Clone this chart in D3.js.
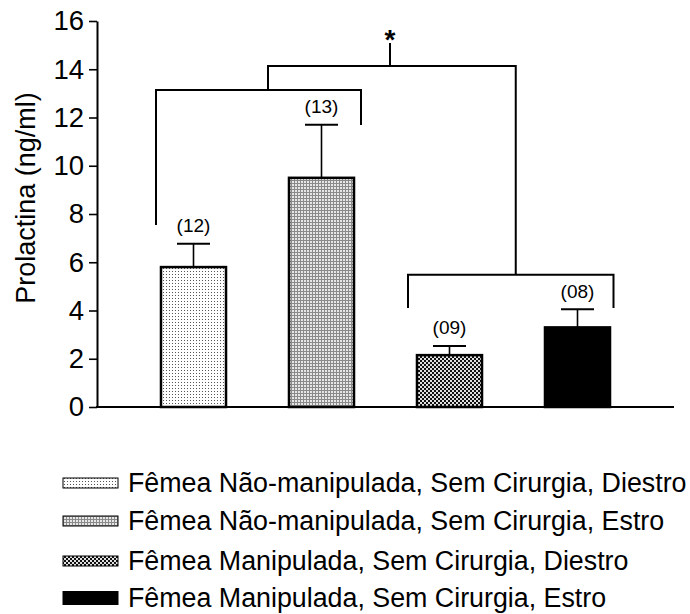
<!DOCTYPE html>
<html>
<head>
<meta charset="utf-8">
<script src="https://cdn.jsdelivr.net/npm/d3@7"></script>
<style>
  html, body { margin: 0; padding: 0; background: #fff; }
  svg { display: block; font-family: "Liberation Sans", Arial, sans-serif; }
</style>
</head>
<body>
<svg id="chart" width="690" height="614"></svg>
<script>
// Groups, means and standard errors of serum prolactin
const groups = [
  "Fêmea Não-manipulada, Sem Cirurgia, Diestro",
  "Fêmea Não-manipulada, Sem Cirurgia, Estro",
  "Fêmea Manipulada, Sem Cirurgia, Diestro",
  "Fêmea Manipulada, Sem Cirurgia, Estro"
];
const means = [5.8, 9.5, 2.15, 3.3];
const sems = [0.97, 2.2, 0.38, 0.75];
const counts = ["(12)", "(13)", "(09)", "(08)"];
const yTicks = [0, 2, 4, 6, 8, 10, 12, 14, 16];
const fills = ["url(#pDots)", "url(#pGrid)", "url(#pCheck)", "#000"];

const svg = d3.select("#chart");

// patterns for the bar fills
const defs = svg.append("defs");
const pDots = defs.append("pattern").attr("id", "pDots")
  .attr("patternUnits", "userSpaceOnUse").attr("width", 3).attr("height", 3);
pDots.append("rect").attr("width", 3).attr("height", 3).attr("fill", "#fff");
pDots.append("rect").attr("x", 1).attr("y", 1).attr("width", 1).attr("height", 1).attr("fill", "#555");

const pGrid = defs.append("pattern").attr("id", "pGrid")
  .attr("patternUnits", "userSpaceOnUse").attr("width", 3).attr("height", 3);
pGrid.append("rect").attr("width", 3).attr("height", 3).attr("fill", "#e6e6e6");
pGrid.append("rect").attr("width", 3).attr("height", 1).attr("fill", "#8a8a8a");
pGrid.append("rect").attr("width", 1).attr("height", 3).attr("fill", "#8a8a8a");

const pCheck = defs.append("pattern").attr("id", "pCheck")
  .attr("patternUnits", "userSpaceOnUse").attr("width", 4).attr("height", 4);
pCheck.append("rect").attr("width", 4).attr("height", 4).attr("fill", "#e0e0e0");
pCheck.append("rect").attr("x", 0).attr("y", 0).attr("width", 2).attr("height", 2).attr("fill", "#111");
pCheck.append("rect").attr("x", 2).attr("y", 2).attr("width", 2).attr("height", 2).attr("fill", "#111");

// scales
const y = d3.scaleLinear().domain([0, 16]).range([407, 21]);
const x = d3.scaleBand().domain(groups).range([129.5, 641.5])
  .paddingInner(0.492).paddingOuter(0.246);
const cx = i => x(groups[i]) + x.bandwidth() / 2;

// y axis
const yAxis = svg.append("g").attr("transform", "translate(97,0)")
  .call(d3.axisLeft(y).tickValues(yTicks).tickSize(8).tickPadding(5).tickSizeOuter(0));
yAxis.select(".domain").attr("stroke", "#000").attr("stroke-width", 2);
yAxis.selectAll(".tick line").attr("stroke", "#000").attr("stroke-width", 1.6);
yAxis.selectAll(".tick text").attr("font-size", 27.5).attr("fill", "#000")
  .attr("font-family", "Liberation Sans, Arial, sans-serif");

// x baseline
svg.append("line").attr("x1", 96).attr("x2", 674)
  .attr("y1", y(0)).attr("y2", y(0)).attr("stroke", "#000").attr("stroke-width", 2);

// axis title
svg.append("text")
  .attr("transform", "translate(35,198) rotate(-90)")
  .attr("text-anchor", "middle").attr("font-size", 27).attr("fill", "#000")
  .text("Prolactina (ng/ml)");

// error bars
const err = svg.append("g").attr("stroke", "#000").attr("stroke-width", 1.6);
groups.forEach((g, i) => {
  const c = cx(i);
  err.append("line").attr("x1", c).attr("x2", c)
    .attr("y1", y(means[i])).attr("y2", y(means[i] + sems[i]));
  err.append("line").attr("x1", c - 16.5).attr("x2", c + 16.5)
    .attr("y1", y(means[i] + sems[i])).attr("y2", y(means[i] + sems[i]))
    .attr("stroke-width", 2);
});

// bars
svg.append("g").selectAll("rect").data(groups).join("rect")
  .attr("x", d => x(d)).attr("width", x.bandwidth())
  .attr("y", (d, i) => y(means[i])).attr("height", (d, i) => y(0) - y(means[i]))
  .attr("fill", (d, i) => fills[i])
  .attr("stroke", "#000").attr("stroke-width", 2.5);

// sample sizes
svg.append("g").selectAll("text").data(counts).join("text")
  .attr("x", (d, i) => cx(i)).attr("y", (d, i) => y(means[i] + sems[i]) - 11.5)
  .attr("text-anchor", "middle").attr("font-size", 19).attr("fill", "#000")
  .text(d => d);

// significance brackets
const br = svg.append("g").attr("fill", "none").attr("stroke", "#000").attr("stroke-width", 2);
const bl = cx(0) - 37.5, brr = cx(1) + 39.5;   // left pair
const ll = cx(2) - 41.5, lr = cx(3) + 36;      // right pair
const yLeft = y(13.14), yLow = y(5.48), yTop = y(14.13);
br.append("path").attr("d", `M${bl},${y(7.54)}V${yLeft}H${brr}V${y(11.69)}`);
br.append("path").attr("d", `M${ll},${y(4.1)}V${yLow}H${lr}V${y(4.1)}`);
const tl = bl + 112, tr = (ll + lr) / 2 + 5;
br.append("path").attr("d", `M${tl},${yLeft}V${yTop}H${tr}V${yLow}`);
const mid = 390;
br.append("path").attr("d", `M${mid},${yTop}V${y(15.09)}`);
svg.append("text").attr("x", mid).attr("y", 49)
  .attr("text-anchor", "middle").attr("font-size", 28).attr("font-weight", "bold")
  .attr("fill", "#000").text("*");

// legend
const legY = [483, 521, 561, 598];
const swH = [10, 10, 10, 13];
const leg = svg.append("g");
groups.forEach((g, i) => {
  leg.append("rect").attr("x", 63).attr("y", legY[i] - swH[i] / 2).attr("width", 55).attr("height", swH[i])
    .attr("fill", fills[i]).attr("stroke", "#000").attr("stroke-width", 1);
  leg.append("text").attr("x", 128).attr("y", legY[i] + 9)
    .attr("font-size", 26.8).attr("fill", "#000").text(g);
});
</script>
</body>
</html>
